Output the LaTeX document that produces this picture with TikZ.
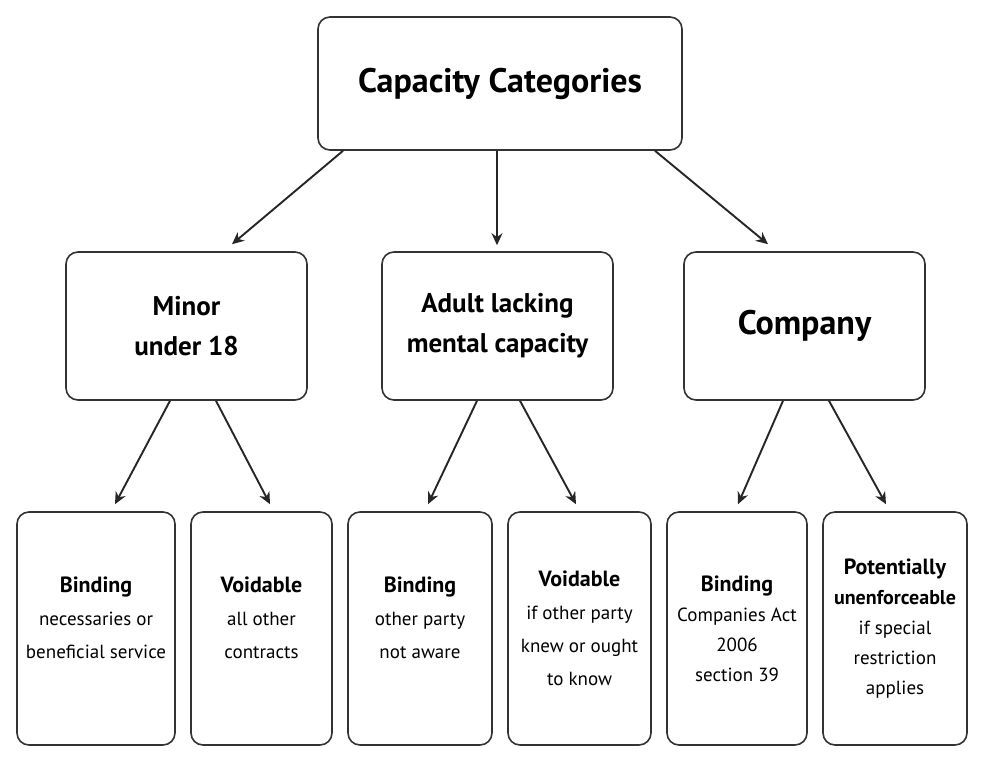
\documentclass[tikz,border=0pt]{standalone}
\usepackage{fontspec}
\setmainfont{PT Sans}
\usetikzlibrary{arrows.meta}
\begin{document}
\begin{tikzpicture}[x=1pt,y=-1pt,
  box/.style={draw=black!80,line width=1.6pt,rounded corners=12pt,fill=white,align=center,inner sep=2pt},
  arr/.style={draw=black!85,line width=1.9pt,-{Stealth[length=12pt,width=11pt]}},
  lt/.style={font=\fontsize{19}{33}\selectfont,text depth=22pt},
  hd/.style={font=\fontsize{22}{33}\bfseries\selectfont}]
\useasboundingbox[fill=white] (0,0) rectangle (984,763);
\node[box,minimum width=364pt,minimum height=133pt,font=\fontsize{34}{40}\bfseries\selectfont] (root) at (500,83.5) {Capacity Categories};
\node[box,minimum width=241pt,minimum height=148pt,font=\fontsize{27}{40}\bfseries\selectfont] (minor) at (186.5,326) {Minor\\under 18};
\node[box,minimum width=231pt,minimum height=148pt,font=\fontsize{27}{40}\bfseries\selectfont] (adult) at (497.5,326) {Adult lacking\\mental capacity};
\node[box,minimum width=241pt,minimum height=148pt,font=\fontsize{34}{40}\bfseries\selectfont] (comp) at (804.5,326) {Company};
\node[box,minimum width=158pt,minimum height=233pt,lt] (l1) at (96,628.5) {\textbf{\fontsize{22}{33}\selectfont Binding}\\necessaries or\\beneficial service};
\node[box,minimum width=141pt,minimum height=233pt,lt] (l2) at (261.5,628.5) {\textbf{\fontsize{22}{33}\selectfont Voidable}\\all other\\contracts};
\node[box,minimum width=144pt,minimum height=233pt,lt] (l3) at (420,628.5) {\textbf{\fontsize{22}{33}\selectfont Binding}\\other party\\not aware};
\node[box,minimum width=143pt,minimum height=233pt,font=\fontsize{19}{33}\selectfont] (l4) at (579.5,628.5) {\textbf{\fontsize{22}{33}\selectfont Voidable}\\if other party\\knew or ought\\to know};
\node[box,minimum width=140pt,minimum height=233pt,font=\fontsize{19}{30}\selectfont] (l5) at (737,628.5) {\textbf{\fontsize{22}{30}\selectfont Binding}\\Companies Act\\2006\\section 39};
\node[box,minimum width=144pt,minimum height=233pt,font=\fontsize{19}{30}\selectfont] (l6) at (895,628.5) {\textbf{\fontsize{22}{30}\selectfont Potentially}\\\textbf{\fontsize{20}{30}\selectfont unenforceable}\\if special\\restriction\\applies};
\draw[arr] ([xshift=-157pt]root.south) -- ([xshift=45.5pt,yshift=7pt]minor.north);
\draw[arr] ([xshift=-3pt]root.south) -- ([xshift=-0.5pt,yshift=6pt]adult.north);
\draw[arr] ([xshift=155pt]root.south) -- ([xshift=-36.5pt,yshift=7pt]comp.north);
\draw[arr] ([xshift=-16.5pt]minor.south) -- ([xshift=19pt,yshift=7pt]l1.north);
\draw[arr] ([xshift=29.5pt]minor.south) -- ([xshift=8.5pt,yshift=7pt]l2.north);
\draw[arr] ([xshift=-20.5pt]adult.south) -- ([xshift=8pt,yshift=7pt]l3.north);
\draw[arr] ([xshift=22.5pt]adult.south) -- ([xshift=-3.5pt,yshift=7pt]l4.north);
\draw[arr] ([xshift=-21.5pt]comp.south) -- ([xshift=1pt,yshift=7pt]l5.north);
\draw[arr] ([xshift=24.5pt]comp.south) -- ([xshift=-9pt,yshift=7pt]l6.north);
\end{tikzpicture}
\end{document}
